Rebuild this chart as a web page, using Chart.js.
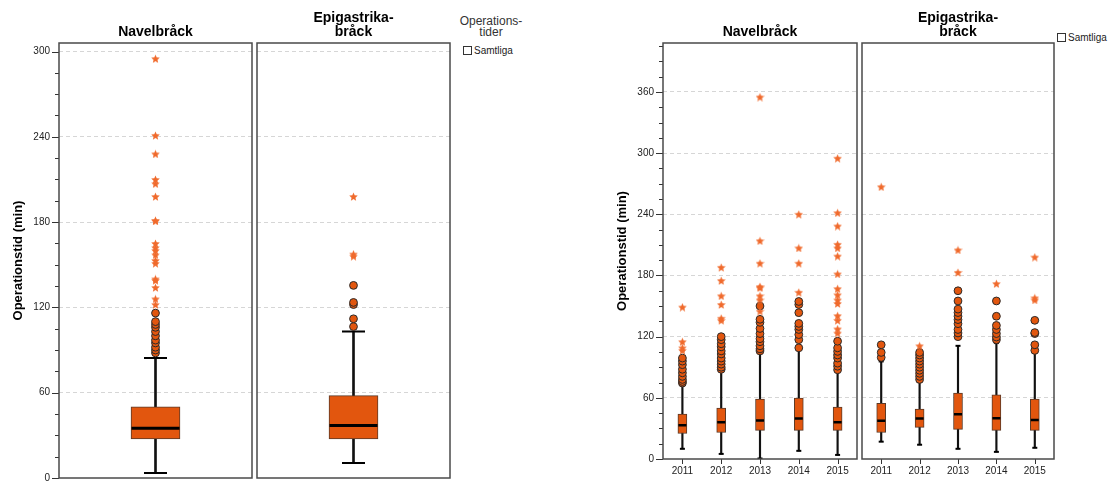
<!DOCTYPE html>
<html>
<head>
<meta charset="utf-8">
<script src="https://cdn.jsdelivr.net/npm/chart.js@4.4.1/dist/chart.umd.min.js"></script>
<style>
  body { margin: 0; background: #fff; font-family: Arial, "Liberation Sans", sans-serif; }
  #wrap { position: relative; width: 1109px; height: 481px; overflow: hidden; }
  canvas { position: absolute; top: 0; }
  .leg { position: absolute; color: #222; white-space: nowrap; }
  .chk { display: inline-block; width: 9px; height: 9px; border: 1px solid #333; box-sizing: border-box; vertical-align: -1px; margin-right: 2px; }
</style>
</head>
<body>
<div id="wrap">
  <canvas id="allNavel" width="253" height="493" style="left:0px"></canvas>
  <canvas id="allEpig" width="195" height="481" style="left:256px"></canvas>
  <canvas id="yrNavel" width="258" height="481" style="left:600px"></canvas>
  <canvas id="yrEpig" width="194" height="481" style="left:861px"></canvas>

  <div class="leg" style="left:458px;top:16px;width:66px;text-align:center;font-size:12px;line-height:11px;color:#333">Operations-<br>tider</div>
  <div class="leg" style="left:463px;top:45px;font-size:10px;line-height:11px"><span class="chk"></span>Samtliga</div>
  <div class="leg" style="left:1057px;top:32px;font-size:10px;line-height:11px"><span class="chk"></span>Samtliga</div>
</div>

<script>
// ---- data (minutes) ----
const allLabels = ['Samtliga'];
const years = ['2011', '2012', '2013', '2014', '2015'];

// all years pooled: Navelbråck
const allNavelLo = [3.5], allNavelQ1 = [27.5], allNavelMed = [35], allNavelQ3 = [50], allNavelHi = [84.5];
const allNavelCircles = [[88, 90, 92, 95, 97, 100, 103, 106, 108, 110, 116]];
const allNavelStars = [[122, 126, 134, 139, 140, 151, 153, 157, 160, 162, 165, 181, 181, 198, 207, 210, 228, 241, 295]];

// all years pooled: Epigastrikabråck
const allEpigLo = [10.5], allEpigQ1 = [27.5], allEpigMed = [37], allEpigQ3 = [58], allEpigHi = [103];
const allEpigCircles = [[106.5, 112, 122, 123.5, 135.5]];
const allEpigStars = [[156, 157.5, 198]];

// per year: Navelbråck
const navelLo  = [10, 5, 0.5, 8, 4];
const navelQ1  = [25, 26, 28, 28, 28];
const navelMed = [33, 36, 37.7, 39.6, 36];
const navelQ3  = [44, 50, 58.7, 59.7, 51];
const navelHi  = [72, 86, 104, 107, 86];
const navelCircles = [
  [74.5, 76, 78, 81, 84.5, 88, 92.5, 96, 99],
  [88, 90, 93, 96, 99, 103, 106, 110, 113, 117, 120],
  [106, 108, 111, 115, 118, 123, 128, 134, 137, 150],
  [109, 117, 122, 127, 130, 133, 143.5, 151.5, 154.5],
  [87.5, 91, 94, 99, 102, 105.5, 109, 115.5]
];
const navelStars = [
  [106.5, 109, 115, 149],
  [136, 138, 151.5, 160, 175, 188],
  [145, 156, 160, 168, 169, 192, 214, 355],
  [163.5, 192, 207, 240],
  [123.5, 127.5, 136, 140.5, 152.5, 156, 161, 167, 181.5, 199, 207, 210.5, 228.5, 241.5, 295]
];

// per year: Epigastrikabråck
const epigLo  = [17, 14, 10, 7, 11];
const epigQ1  = [26, 31, 29, 28, 28];
const epigMed = [37.4, 39.6, 44, 40, 38.3];
const epigQ3  = [54.7, 49, 64.6, 63, 58.7];
const epigHi  = [95.7, 76, 111, 113.7, 107];
const epigCircles = [
  [99.6, 104.5, 112],
  [78, 81, 84, 87, 90, 93, 96, 99, 102, 104.5],
  [120, 123.6, 127, 132.7, 136.7, 140, 143.6, 147, 155, 165],
  [117, 119.6, 123, 127, 131, 140, 155],
  [106.5, 112, 123, 124, 136]
];
const epigStars = [[267], [111], [183, 205], [172], [156, 158, 198]];

// ---- styling ----
const FONT = 'Arial, "Liberation Sans", sans-serif';
const ORANGE = '#E2560E';

function makeStar(size, color) {
  const c = document.createElement('canvas');
  c.width = c.height = size;
  const g = c.getContext('2d');
  const r = size / 2, ri = r * 0.45;
  g.beginPath();
  for (let i = 0; i < 10; i++) {
    const a = -Math.PI / 2 + i * Math.PI / 5;
    const rr = i % 2 ? ri : r;
    g.lineTo(r + rr * Math.cos(a), r + 0.5 + rr * Math.sin(a));
  }
  g.closePath();
  g.fillStyle = color;
  g.fill();
  return c;
}
const starImg = makeStar(9, '#F06A2C');

// frame, tick marks and panel title
const decor = {
  id: 'decor',
  afterDraw(chart, args, o) {
    const { ctx, chartArea: a, scales: { x, y } } = chart;
    ctx.save();
    ctx.strokeStyle = '#333';
    ctx.lineWidth = 1;
    const line = (x1, y1, x2, y2) => { ctx.beginPath(); ctx.moveTo(x1, y1); ctx.lineTo(x2, y2); ctx.stroke(); };
    if (o.showY) {
      y.ticks.forEach(t => {
        const py = Math.round(y.getPixelForValue(t.value)) + 0.5;
        line(a.left - (t.value % 60 === 0 ? 7 : 4), py, a.left, py);
      });
    }
    if (o.showX) {
      x.ticks.forEach((t, i) => {
        const px = Math.round(x.getPixelForTick(i)) + 0.5;
        line(px, a.bottom, px, a.bottom + 5);
      });
    }
    ctx.strokeStyle = '#4a4a4a';
    ctx.lineWidth = 1.5;
    ctx.strokeRect(a.left, a.top, a.right - a.left, a.bottom - a.top);

    ctx.fillStyle = '#000';
    ctx.font = 'bold 14px ' + FONT;
    ctx.textAlign = 'center';
    ctx.textBaseline = 'middle';
    const cx = (a.left + a.right) / 2;
    o.title.forEach((s, i) => ctx.fillText(s, cx, 32 - (o.title.length - 1 - i) * 13.4));
    ctx.restore();
  }
};

function panel(id, c) {
  const labels = c.labels;
  const pts = lists => lists.flatMap((vals, i) => vals.map(v => ({ x: labels[i], y: v })));
  const one = vals => vals.map((v, i) => ({ x: labels[i], y: v }));

  new Chart(document.getElementById(id), {
    type: 'bar',
    data: {
      labels: labels,
      datasets: [
        { type: 'line', data: pts(c.stars), showLine: false, pointStyle: starImg, pointRadius: 4 },
        { type: 'line', data: pts(c.circles), showLine: false, pointStyle: 'circle', pointRadius: 3.9,
          pointBackgroundColor: ORANGE, pointBorderColor: '#2a2a2a', pointBorderWidth: 1 },
        { type: 'line', data: one(c.med), showLine: false, pointStyle: 'line', pointRadius: c.boxW / 2 - 0.5,
          pointBorderColor: '#000', pointBorderWidth: c.medW },
        { type: 'line', data: one(c.lo).concat(one(c.hi)), showLine: false, pointStyle: 'line', pointRadius: c.capHalf,
          pointBorderColor: '#000', pointBorderWidth: 2 },
        { type: 'bar', data: c.q1.map((v, i) => [v, c.q3[i]]), barThickness: c.boxW, grouped: false,
          backgroundColor: ORANGE, borderColor: '#5a3a28', borderWidth: 1, borderSkipped: false },
        { type: 'bar', data: c.lo.map((v, i) => [v, c.hi[i]]), barThickness: c.whW, grouped: false,
          backgroundColor: '#111', borderWidth: 0 }
      ]
    },
    options: {
      responsive: false,
      animation: false,
      events: [],
      layout: { autoPadding: false, padding: { left: c.padL, right: 1, top: 43, bottom: c.padB } },
      plugins: {
        legend: { display: false },
        tooltip: { enabled: false },
        decor: { showY: c.showY, showX: c.showX, title: c.title }
      },
      scales: {
        x: {
          display: c.showX,
          offset: true,
          grid: { display: false, drawTicks: false },
          border: { display: false },
          ticks: { font: { size: 10, family: FONT }, color: '#222', padding: 6.5, maxRotation: 0, autoSkip: false },
          afterFit: s => { s.height = c.showX ? 22 : 0; }
        },
        y: {
          min: 0,
          max: c.yMax,
          afterFit: s => { s.width = c.yW; },
          ticks: {
            display: c.showY, stepSize: 15, includeBounds: false, autoSkip: false, padding: 9,
            font: { size: 10, family: FONT }, color: '#222',
            callback: v => (v % 60 === 0 ? v : '')
          },
          grid: {
            drawTicks: false,
            lineWidth: 1,
            color: ctx => (ctx.tick && ctx.tick.value % 60 === 0 && ctx.tick.value > 0) ? '#d6d6d6' : 'rgba(0,0,0,0)'
          },
          border: { display: false, dash: [4, 3] },
          title: {
            display: c.showY, text: 'Operationstid (min)', color: '#000',
            font: { size: 13, weight: 'bold', family: FONT },
            padding: { top: c.titlePad, bottom: 0 }
          }
        }
      }
    },
    plugins: [decor]
  });
}

panel('allNavel', {
  labels: allLabels, title: ['Navelbråck'], showY: true, showX: false, yMax: 306, yW: 59, padL: 0, padB: 15, titlePad: 10.7,
  lo: allNavelLo, q1: allNavelQ1, med: allNavelMed, q3: allNavelQ3, hi: allNavelHi,
  circles: allNavelCircles, stars: allNavelStars, boxW: 49, whW: 2, capHalf: 11.5, medW: 3
});
panel('allEpig', {
  labels: allLabels, title: ['Epigastrika-', 'bråck'], showY: false, showX: false, yMax: 306, yW: 0, padL: 1, padB: 3, titlePad: 0,
  lo: allEpigLo, q1: allEpigQ1, med: allEpigMed, q3: allEpigQ3, hi: allEpigHi,
  circles: allEpigCircles, stars: allEpigStars, boxW: 49, whW: 2, capHalf: 11.5, medW: 3
});
panel('yrNavel', {
  labels: years, title: ['Navelbråck'], showY: true, showX: true, yMax: 408, yW: 63, padL: 0, padB: 0, titlePad: 14.2,
  lo: navelLo, q1: navelQ1, med: navelMed, q3: navelQ3, hi: navelHi,
  circles: navelCircles, stars: navelStars, boxW: 9, whW: 1.5, capHalf: 2.5, medW: 2.5
});
panel('yrEpig', {
  labels: years, title: ['Epigastrika-', 'bråck'], showY: false, showX: true, yMax: 408, yW: 0, padL: 1, padB: 0, titlePad: 0,
  lo: epigLo, q1: epigQ1, med: epigMed, q3: epigQ3, hi: epigHi,
  circles: epigCircles, stars: epigStars, boxW: 9, whW: 1.5, capHalf: 2.5, medW: 2.5
});
</script>
</body>
</html>
